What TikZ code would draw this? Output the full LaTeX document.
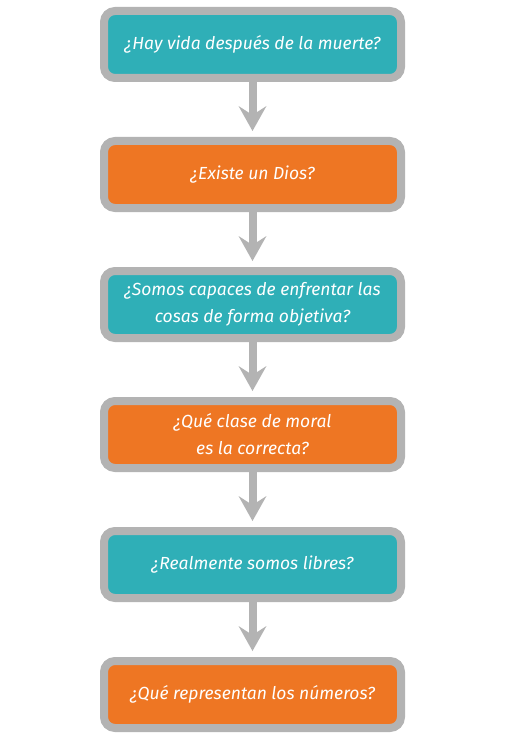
\documentclass[tikz,border=0pt]{standalone}
\usepackage{fontspec}
\setmainfont{Fira Sans}
\usetikzlibrary{arrows.meta}
\definecolor{teal1}{HTML}{2FAFB7}
\definecolor{orange1}{HTML}{EE7623}
\definecolor{boxgray}{HTML}{B3B3B3}
\tikzset{
  qbox/.style={draw=boxgray, line width=8pt, rounded corners=11pt,
    minimum width=297pt, minimum height=67pt, inner sep=0pt, outer sep=4pt,
    text=white, align=center,
    font=\fontsize{17.5}{27}\selectfont\itshape},
  tealbox/.style={qbox, fill=teal1},
  orangebox/.style={qbox, fill=orange1},
  arr/.style={draw=boxgray, line width=8pt,
    -{Stealth[length=25pt, width=28pt, inset=9pt, line width=0pt, fill=boxgray]}}
}
\begin{document}
\begin{tikzpicture}[x=1pt,y=1pt]
\useasboundingbox (0,0) rectangle (505,-754);
\node[tealbox]   (b1) at (252.5,-44.5)  {¿Hay vida después de la muerte?};
\node[orangebox] (b2) at (252.5,-174.5) {¿Existe un Dios?};
\node[tealbox]   (b3) at (252.5,-304.5) {¿Somos capaces de enfrentar las\\cosas de forma objetiva?};
\node[orangebox] (b4) at (252.5,-434.5) {¿Qué clase de moral\\es la correcta?};
\node[tealbox]   (b5) at (252.5,-564.5) {¿Realmente somos libres?};
\node[orangebox] (b6) at (252.5,-694.5) {¿Qué representan los números?};
\foreach \a/\b in {b1/b2,b2/b3,b3/b4,b4/b5,b5/b6}
  \draw[arr] (\a.south) -- ([yshift=6pt]\b.north);
\end{tikzpicture}
\end{document}
